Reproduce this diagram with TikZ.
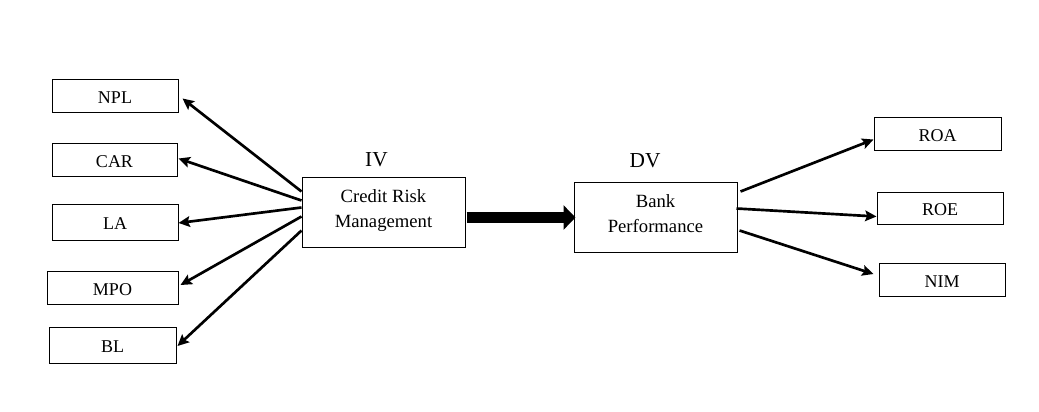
\documentclass[tikz,border=0pt]{standalone}
\usepackage{fontspec}
\setmainfont{Liberation Serif}
\usetikzlibrary{arrows.meta,calc}
\begin{document}
\begin{tikzpicture}[x=0.75pt,y=-0.75pt,
  box/.style={draw,line width=0.75pt,rectangle,inner sep=0pt,text height=11.6pt,text depth=0pt,font=\fontsize{13.5}{16}\selectfont},
  bigbox/.style={draw,line width=0.75pt,rectangle,inner sep=0pt,align=center,text depth=4.5pt,font=\fontsize{14}{18.75}\selectfont,minimum width=122.25pt,minimum height=52.5pt},
  lbl/.style={inner sep=0pt,font=\fontsize{16}{18}\selectfont},
  conn/.style={line width=2pt,-{Stealth[length=8.5pt,width=8pt,inset=1.5pt]}},
  fat/.style={line width=8.5pt,-{Triangle[length=9pt,width=18pt]}}]
\useasboundingbox (0,0) rectangle (1039,411);
% left boxes
\node[box,minimum width=94.5pt,minimum height=24.75pt] (npl) at (115,95.5) {NPL};
\node[box,minimum width=93.75pt,minimum height=24.75pt] (car) at (114.5,159.5) {CAR};
\node[box,minimum width=94.5pt,minimum height=27pt] (la) at (115,222) {LA};
\node[box,minimum width=98.25pt,minimum height=24.75pt] (mpo) at (112.5,287.5) {MPO};
\node[box,minimum width=95.25pt,minimum height=27pt] (bl) at (112.5,345) {BL};
% centre boxes
\node[bigbox] (crm) at (383.5,212) {Credit Risk\\Management};
\node[bigbox] (bp) at (655.5,217) {Bank\\Performance};
\node[lbl] (iv) at (376.5,160) {IV};
\node[lbl] (dv) at (645,161) {DV};
% right boxes
\node[box,minimum width=95.25pt,minimum height=24.75pt] (roa) at (937.5,133.5) {ROA};
\node[box,minimum width=94.5pt,minimum height=24pt] (roe) at (940,208) {ROE};
\node[box,minimum width=94.5pt,minimum height=24.75pt] (nim) at (942,279.5) {NIM};
% connectors from CRM
\draw[conn] ($(crm.north west)+(0,15)$) -- ($(npl.east)+(4,3)$);
\draw[conn] ($(crm.north west)+(0,24)$) -- ($(car.east)+(1,-1)$);
\draw[conn] ($(crm.north west)+(0,31)$) -- ($(la.east)+(0,1)$);
\draw[conn] ($(crm.north west)+(0,40)$) -- ($(mpo.east)+(2,-2.5)$);
\draw[conn] ($(crm.north west)+(0,54)$) -- ($(bl.east)+(1,1)$);
\draw[fat] ($(crm.east)+(1,5.5)$) -- ($(bp.west)+(2,0.5)$);
% connectors to performance measures
\draw[conn] ($(bp.north east)+(3,10)$) -- ($(roa.west)+(0,6)$);
\draw[conn] ($(bp.north east)+(-1,27)$) -- ($(roe.west)+(0,8.5)$);
\draw[conn] ($(bp.north east)+(2,49)$) -- ($(nim.west)+(-5,-5.5)$);
\end{tikzpicture}
\end{document}
